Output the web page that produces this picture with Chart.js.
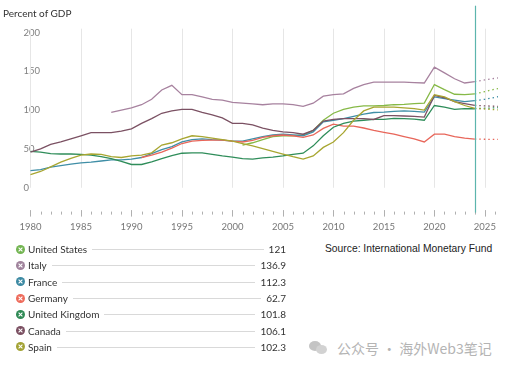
<!DOCTYPE html>
<html>
<head>
<meta charset="utf-8">
<script src="https://cdn.jsdelivr.net/npm/chart.js@4.4.1/dist/chart.umd.min.js"></script>
<style>
  body { margin: 0; background: #fff; width: 512px; height: 366px; overflow: hidden; position: relative; font-family: Lato, "Open Sans", sans-serif; }
  #debtChart { position: absolute; left: 0; top: 0; }
  #ytitle { position: absolute; left: 3px; top: 7px; font-size: 10px; color: #333; }
  #legend { position: absolute; left: 16px; top: 241px; width: 270px; }
  .row { display: flex; align-items: center; height: 16.3px; font-size: 10px; color: #333; }
  .row svg { margin-right: 3px; flex: none; }
  .row .rule { flex: 1; border-top: 1px solid #d9d9d9; margin: 1px 5px 0 5px; }
  #source { position: absolute; left: 325px; top: 243px; font-family: "Liberation Sans", Arial, sans-serif; font-size: 10.3px; color: #222; }
  #mark { position: absolute; left: 309px; top: 338px; height: 20px; display: flex; align-items: center; color: #b4b4b4; font-family: "Noto Sans CJK SC", sans-serif; font-size: 14px; }
  .bub { position: relative; width: 20px; height: 16px; margin-right: 8px; }
  .bub i { position: absolute; border-radius: 50%; background: #c4c4c4; }
</style>
</head>
<body>
<canvas id="debtChart" width="512" height="242"></canvas>
<div id="ytitle">Percent of GDP</div>
<div id="legend"></div>
<div id="source">Source: International Monetary Fund</div>
<div id="mark"><div class="bub"><i style="left:0;top:1px;width:12px;height:10px"></i><i style="left:7px;top:5px;width:11px;height:9px;background:#d2d2d2"></i></div>公众号 · 海外Web3笔记</div>

<script>
// ==== Data ====
const years = [1980, 1981, 1982, 1983, 1984, 1985, 1986, 1987, 1988, 1989,
               1990, 1991, 1992, 1993, 1994, 1995, 1996, 1997, 1998, 1999,
               2000, 2001, 2002, 2003, 2004, 2005, 2006, 2007, 2008, 2009,
               2010, 2011, 2012, 2013, 2014, 2015, 2016, 2017, 2018, 2019,
               2020, 2021, 2022, 2023, 2024, 2025, 2026, 2027];
const lastActual = 2024; // after this the lines are projections (dotted)

const usDebt = [null, null, null, null, null, null, null, null, null, null,
                null, null, null, null, null, null, null, null, null, null,
                null, 55, 58, 62, 66, 67, 67, 68, 74, 87,
                96, 101, 104, 105.5, 105.5, 106, 107, 107.5, 108.5, 109,
                133, 126.5, 120.5, 120, 121, 124, 127, 129.5];
const italyDebt = [null, null, null, null, null, null, null, null, 97, 100,
                   103, 107, 114, 126, 132, 120, 120, 117, 114, 113,
                   110, 109, 108, 107, 108, 108, 107, 105, 109, 118,
                   120, 121, 128, 133, 136, 136, 136, 136, 135.5, 135,
                   155.5, 148, 140.5, 135, 136.9, 139, 141, 143];
const franceDebt = [22, 23.5, 26.5, 28.5, 30.5, 32, 33, 34.5, 36, 36,
                    37, 39, 44, 49, 53, 59, 62, 63, 62, 61.5,
                    60, 60, 63, 66, 68, 69, 68, 67, 72, 85,
                    87, 89, 92, 95, 97, 97.5, 98.5, 99, 98.5, 97.5,
                    117, 115, 113, 111, 112.3, 114, 116.5, 119];
const germanyDebt = [null, null, null, null, null, null, null, null, null, null,
                     null, 39, 42, 46, 51, 57, 60, 61, 61.5, 61.5,
                     60, 59, 61, 65, 67, 68, 67, 65, 68, 76.5,
                     82, 79.5, 79.5, 77, 74, 71.5, 69, 66, 63, 59,
                     69, 69, 66, 64, 62.7, 62.5, 62.4, 62.3];
const ukDebt = [47, 46, 44, 43.5, 43.5, 43, 42, 40, 37.5, 34,
                30, 30, 33.5, 37.5, 41.5, 44.5, 45, 45, 43, 41,
                39.5, 37.5, 37, 38.5, 39.5, 41, 43, 44.5, 54, 67,
                78, 83, 86, 87, 88, 88, 89.5, 89, 88.5, 87,
                106, 104, 101, 102, 101.8, 102.5, 103, 103.5];
const canadaDebt = [46, 50, 56, 59, 63, 67, 71, 71, 71, 73,
                    76, 83, 89, 96, 99, 101, 101, 97, 94, 90,
                    83, 83, 81, 77, 74, 72, 71, 69, 74, 86,
                    88, 89, 89, 89, 88, 93, 93, 92.5, 92, 91,
                    119, 116, 111, 108.5, 106.1, 105.5, 105, 104.5];
const spainDebt = [17, 21, 27, 33, 38, 42, 43.5, 43, 40, 39,
                   41, 42, 45, 55, 58, 63, 67, 66, 64, 62,
                   60, 57, 54, 50.5, 47, 43.5, 40, 37, 41, 52,
                   59, 71, 87, 99, 104, 104, 104, 103, 102, 100,
                   120, 117, 111, 106, 102.3, 101.5, 100.5, 100];

const countries = ["United States", "Italy", "France", "Germany", "United Kingdom", "Canada", "Spain"];
const seriesList = [usDebt, italyDebt, franceDebt, germanyDebt, ukDebt, canadaDebt, spainDebt];
const lineColors = ["#86b947", "#a7829f", "#3f8ea6", "#e8665a", "#2f8d5a", "#7b5163", "#a8a631"];
const iconColors = ["#73b552", "#a0839c", "#3d8aa3", "#ee6b5b", "#2f8a55", "#7b5062", "#a3a335"];

const xLabels = [1980, 1985, 1990, 1995, 2000, 2005, 2010, 2015, 2020, 2025];
const yTicks = [0, 50, 100, 150, 200];
const gridTop = 205;

// ==== Grid, tick marks and the "now" line ====
const framePlugin = {
  id: "frame",
  beforeDatasetsDraw(chart) {
    const { ctx, chartArea, scales: { x, y } } = chart;
    ctx.save();
    ctx.strokeStyle = "#e6e6e6";
    ctx.lineWidth = 1;
    const top = y.getPixelForValue(gridTop);
    const bottom = y.getPixelForValue(0);
    xLabels.forEach(yr => {
      const px = Math.round(x.getPixelForValue(yr)) + 0.5;
      ctx.beginPath();
      ctx.moveTo(px, top);
      ctx.lineTo(px, bottom);
      ctx.stroke();
    });
    ctx.strokeStyle = "#b0b0b0";
    years.forEach(yr => {
      if (yr > 2026) return;
      const px = Math.round(x.getPixelForValue(yr)) + 0.5;
      const major = yr % 5 === 0;
      ctx.beginPath();
      ctx.moveTo(px, chartArea.bottom - (major ? 2.5 : 1));
      ctx.lineTo(px, chartArea.bottom + (major ? 4 : 2));
      ctx.stroke();
    });
    ctx.restore();
  },
  afterDatasetsDraw(chart) {
    const { ctx, chartArea, scales: { x } } = chart;
    const px = Math.round(x.getPixelForValue(lastActual)) + 0.5;
    ctx.save();
    ctx.strokeStyle = "#5cb5ad";
    ctx.lineWidth = 1.2;
    ctx.beginPath();
    ctx.moveTo(px, chartArea.top);
    ctx.lineTo(px, chartArea.bottom);
    ctx.stroke();
    ctx.restore();
  }
};

// ==== Chart Setup ====
const datasets = countries.map((name, i) => ({
  label: name,
  data: years.map((yr, j) => ({ x: yr, y: seriesList[i][j] })),
  borderColor: lineColors[i],
  borderWidth: 1.3,
  pointRadius: 0,
  tension: 0,
  fill: false,
  segment: {
    borderDash: c => (c.p0.parsed.x >= lastActual ? [1.5, 3] : undefined)
  }
})).reverse();

const ctx = document.getElementById("debtChart").getContext("2d");
new Chart(ctx, {
  type: "line",
  data: { datasets: datasets },
  options: {
    responsive: false,
    animation: false,
    layout: { padding: { left: 23.4, right: 14, top: 5, bottom: 0 } },
    plugins: { legend: { display: false }, tooltip: { enabled: false } },
    scales: {
      x: {
        type: "linear",
        min: 1979.3,
        max: 2026.3,
        border: { display: false },
        grid: { display: false, drawTicks: false },
        afterBuildTicks: s => { s.ticks = xLabels.map(v => ({ value: v })); },
        ticks: {
          autoSkip: false,
          maxRotation: 0,
          padding: 9,
          color: "#777",
          font: { family: "Lato", size: 9.5 },
          callback: v => String(v)
        }
      },
      y: {
        min: -32,
        max: 234.6,
        border: { display: false },
        grid: { display: false, drawTicks: false },
        afterBuildTicks: s => { s.ticks = yTicks.map(v => ({ value: v })); },
        ticks: {
          mirror: true,
          padding: 0,
          color: "#808080",
          font: { family: "Lato", size: 9.5 },
          callback: v => String(v)
        }
      }
    }
  },
  plugins: [framePlugin]
});

// ==== Legend ====
const legendEl = document.getElementById("legend");
const at2024 = years.indexOf(lastActual);
countries.forEach((name, i) => {
  const row = document.createElement("div");
  row.className = "row";
  row.innerHTML =
    `<svg width="9" height="9" viewBox="0 0 9 9"><circle cx="4.5" cy="4.5" r="4.5" fill="${iconColors[i]}"/>` +
    `<path d="M2.6 2.6L6.4 6.4M6.4 2.6L2.6 6.4" stroke="#fff" stroke-width="1.1"/></svg>` +
    `<span>${name}</span><span class="rule"></span><span>${seriesList[i][at2024]}</span>`;
  legendEl.appendChild(row);
});
</script>
</body>
</html>
